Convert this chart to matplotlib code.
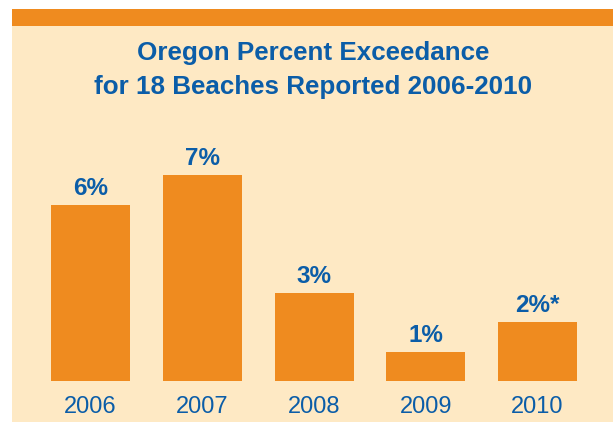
import matplotlib
matplotlib.use("Agg")
import matplotlib.pyplot as plt
from matplotlib.patches import Rectangle

years = ["2006", "2007", "2008", "2009", "2010"]
values = [6, 7, 3, 1, 2]
labels = ["6%", "7%", "3%", "1%", "2%*"]
title_lines = ["Oregon Percent Exceedance", "for 18 Beaches Reported 2006-2010"]

ORANGE = "#EF8B1F"
CREAM = "#FEE9C4"
BLUE = "#0B5DA8"
FONT = "Liberation Sans"

W, H = 613, 422
fig = plt.figure(figsize=(W / 100, H / 100), dpi=100, facecolor="white")

def fx(px):
    return px / W

def fy(py):
    return 1 - py / H

# cream panel and orange top band
fig.patches.append(Rectangle((fx(12), 0), 1 - fx(12), fy(26), transform=fig.transFigure,
                             facecolor=CREAM, edgecolor="none", zorder=-2))
fig.patches.append(Rectangle((fx(12), fy(26)), 1 - fx(12), fy(9) - fy(26), transform=fig.transFigure,
                             facecolor=ORANGE, edgecolor="none", zorder=-2))

# axes: centers at 90.4 + 111.8*i px, bottom at y=381, 29.4 px per unit
step = 111.8
left_px = 90.4 - 0.5 * step
ax_w_px = 5 * step
bottom_px = 381
ax_h_px = 250
ax = fig.add_axes([fx(left_px), fy(bottom_px), ax_w_px / W, ax_h_px / H])
ax.set_zorder(1)
ax.set_facecolor("none")
ax.set_xlim(-0.5, 4.5)
ax.set_ylim(0, ax_h_px / 29.4)
for s in ax.spines.values():
    s.set_visible(False)
ax.set_xticks([])
ax.set_yticks([])

xs = list(range(len(years)))
ax.bar(xs, values, width=79 / step, color=ORANGE, edgecolor="none")

for x, yr in zip(xs, years):
    ax.annotate(yr, (x, 0), xytext=(0, -32 * 0.72), textcoords="offset points",
                ha="center", va="baseline", fontfamily=FONT, fontsize=17,
                color=BLUE, annotation_clip=False)

for x, v, lab in zip(xs, values, labels):
    ax.annotate(lab, (x, v), xytext=(0, 7.2), textcoords="offset points",
                ha="center", va="baseline", fontfamily=FONT, fontweight="bold",
                fontsize=17.5, color=BLUE)

fig.text(fx(313.5), fy(60), title_lines[0], ha="center", va="baseline",
         fontfamily=FONT, fontweight="bold", fontsize=18.7, color=BLUE)
fig.text(fx(313.5), fy(94.3), title_lines[1], ha="center", va="baseline",
         fontfamily=FONT, fontweight="bold", fontsize=18.7, color=BLUE)

fig.savefig("out.png", dpi=100, facecolor="white")
